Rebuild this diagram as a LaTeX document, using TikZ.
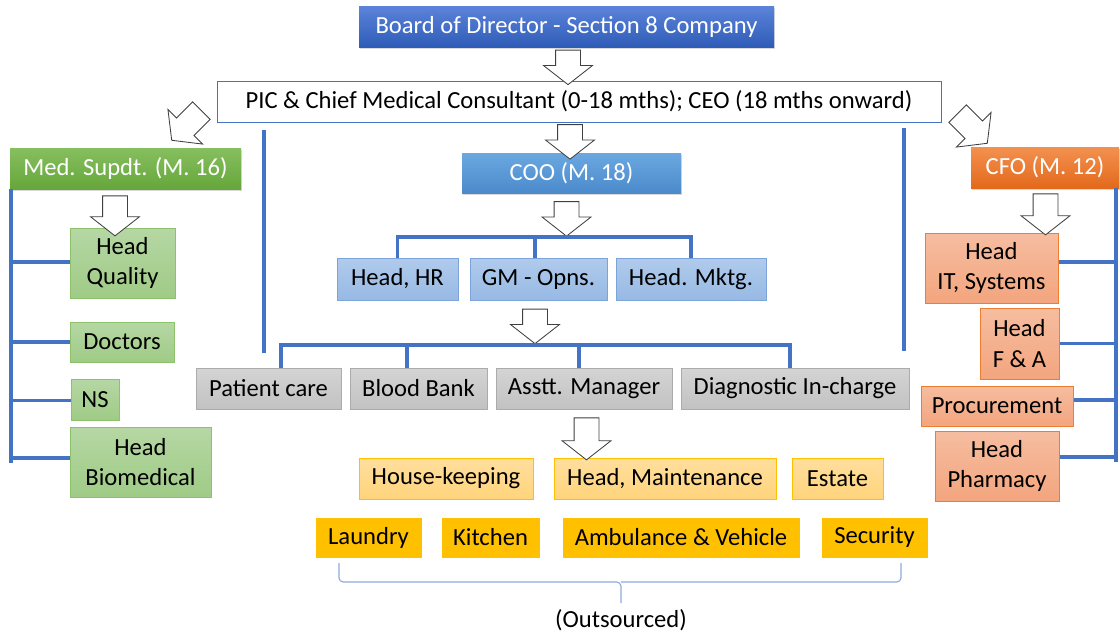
\documentclass[tikz,border=0pt]{standalone}
\usepackage{fontspec}
\setmainfont{Carlito}
\usepackage{tikz}
\usetikzlibrary{positioning,shapes.arrows,shadows,calc}

\definecolor{orgblue}{HTML}{4472C4}
\definecolor{bodtop}{HTML}{5B84D9}
\definecolor{bodbot}{HTML}{2F5CB8}
\definecolor{medtop}{HTML}{86BF5F}
\definecolor{medbot}{HTML}{66A63B}
\definecolor{cootop}{HTML}{6BA8E1}
\definecolor{coobot}{HTML}{4B8ACB}
\definecolor{cfotop}{HTML}{F3914F}
\definecolor{cfobot}{HTML}{E3691C}
\definecolor{lbtop}{HTML}{B0CBEC}
\definecolor{lbbot}{HTML}{98B9E4}
\definecolor{lbdraw}{HTML}{7DA3DB}
\definecolor{lgtop}{HTML}{B6D7A4}
\definecolor{lgbot}{HTML}{9FCB86}
\definecolor{lgdraw}{HTML}{8DC26C}
\definecolor{grtop}{HTML}{D4D4D4}
\definecolor{grbot}{HTML}{C2C2C2}
\definecolor{grdraw}{HTML}{ABABAB}
\definecolor{lotop}{HTML}{FFDE9E}
\definecolor{lobot}{HTML}{FFD47C}
\definecolor{gold}{HTML}{FFC000}
\definecolor{satop}{HTML}{F6BDA0}
\definecolor{sabot}{HTML}{F3A57E}
\definecolor{sadraw}{HTML}{ED7D31}
\definecolor{bracecol}{HTML}{8EAADB}

\begin{document}
\begin{tikzpicture}[
        font=\fontsize{17.5}{21.5}\selectfont,
        box/.style={rectangle, inner sep=2pt, align=center, line width=0.7pt, minimum height=1.025cm},
        topnode/.style={box, text=white, drop shadow={shadow xshift=0.6pt, shadow yshift=-1.4pt, opacity=0.3}},
        boardnode/.style={topnode, top color=bodtop, bottom color=bodbot},
        mednode/.style={topnode, top color=medtop, bottom color=medbot},
        coonode/.style={topnode, top color=cootop, bottom color=coobot},
        cfonode/.style={topnode, top color=cfotop, bottom color=cfobot},
        picnode/.style={box, draw=orgblue, fill=white},
        lbluenode/.style={box, draw=lbdraw, top color=lbtop, bottom color=lbbot},
        lgreennode/.style={box, draw=lgdraw, top color=lgtop, bottom color=lgbot},
        greynode/.style={box, draw=grdraw, top color=grtop, bottom color=grbot},
        lorangenode/.style={box, draw=gold, top color=lotop, bottom color=lobot},
        goldnode/.style={box, draw=gold, fill=gold, minimum height=0.975cm},
        salmonnode/.style={box, draw=sadraw, top color=satop, bottom color=sabot},
        blockarrow/.style={single arrow, draw=black!75, fill=white, line width=0.6pt, inner sep=0.3cm,
            single arrow head extend=0.3cm, single arrow tip angle=104,
            shape border rotate=270},
        orgline/.style={draw=orgblue, line width=2.5pt},
        bracket/.style={draw=bracecol, line width=0.8pt, rounded corners=3pt}
    ]
    \useasboundingbox (0,0) rectangle (28,-15.925);

    % Nodes
    \node[boardnode, minimum width=10.375cm] (bod) at (14.1625,-0.6625) {Board of Director - Section 8 Company};
    \node[picnode, minimum width=18.1cm] (pic) at (14.475,-2.5375) {PIC \& Chief Medical Consultant (0-18 mths); CEO (18 mths onward)};
    \node[mednode, minimum width=5.775cm] (med) at (3.1375,-4.2125) {Med. Supdt. (M. 16)};
    \node[coonode, minimum width=5.475cm, minimum height=1cm] (coo) at (14.2875,-4.325) {COO (M. 18)};
    \node[cfonode, minimum width=3.7cm] (cfo) at (26.125,-4.1875) {CFO (M. 12)};

    \node[lgreennode, minimum width=2.625cm, minimum height=1.75cm] (hq) at (3.0625,-6.575) {Head\\Quality};
    \node[lgreennode, minimum width=2.6cm, minimum height=1cm] (doc) at (3.05,-8.55) {Doctors};
    \node[lgreennode, minimum width=1.2cm] (ns) at (2.375,-9.9875) {NS};
    \node[lgreennode, minimum width=3.525cm, minimum height=1.75cm] (hbm) at (3.5125,-11.55) {Head\\Biomedical};

    \node[lbluenode, minimum width=3.025cm, minimum height=1.05cm] (hr) at (9.9375,-6.975) {Head, HR};
    \node[lbluenode, minimum width=3.425cm, minimum height=1.05cm] (gm) at (13.4625,-6.975) {GM - Opns.};
    \node[lbluenode, minimum width=3.75cm, minimum height=1.05cm] (mktg) at (17.275,-6.975) {Head. Mktg.};

    \node[greynode, minimum width=3.625cm] (pc) at (6.7125,-9.7125) {Patient care};
    \node[greynode, minimum width=3.425cm] (bb) at (10.4625,-9.7125) {Blood Bank};
    \node[greynode, minimum width=4.4cm] (am) at (14.6,-9.7125) {Asstt. Manager};
    \node[greynode, minimum width=5.7cm] (dx) at (19.875,-9.7125) {Diagnostic In-charge};

    \node[lorangenode, minimum width=4.35cm] (hk) at (11.15,-11.9625) {House-keeping};
    \node[lorangenode, minimum width=5.55cm] (hm) at (16.625,-11.9625) {Head, Maintenance};
    \node[lorangenode, minimum width=2.275cm] (est) at (20.9375,-11.9625) {Estate};

    \node[goldnode, minimum width=2.625cm] (lau) at (9.2125,-13.4375) {Laundry};
    \node[goldnode, minimum width=2.425cm] (kit) at (12.2625,-13.4375) {Kitchen};
    \node[goldnode, minimum width=5.9cm] (amb) at (17.025,-13.4375) {Ambulance \& Vehicle};
    \node[goldnode, minimum width=2.625cm] (sec) at (21.8625,-13.4375) {Security};

    \node[salmonnode, minimum width=3.325cm, minimum height=1.75cm] (hit) at (24.7875,-6.7) {Head\\IT, Systems};
    \node[salmonnode, minimum width=1.975cm, minimum height=1.775cm] (hfa) at (25.4875,-8.5875) {Head\\F \& A};
    \node[salmonnode, minimum width=3.8cm, minimum height=1cm] (proc) at (24.925,-10.15) {Procurement};
    \node[salmonnode, minimum width=3.1cm, minimum height=1.75cm] (hph) at (24.925,-11.65) {Head\\Pharmacy};

    \node (out) at (15.525,-15.5) {(Outsourced)};

    % Block arrows
    \node[blockarrow, minimum height=0.775cm] (a1) at (14.2,-1.5625) {};
    \node[blockarrow, minimum height=0.75cm] (a2) at (14.25,-3.425) {};
    \node[blockarrow, minimum height=1cm] (a3) at (2.875,-5.275) {};
    \node[blockarrow, minimum height=0.775cm] (a4) at (14.1625,-5.35) {};
    \node[blockarrow, minimum height=1.025cm] (a5) at (26.1375,-5.2375) {};
    \node[blockarrow, minimum height=0.825cm] (a6) at (13.375,-8.0375) {};
    \node[blockarrow, minimum height=1.05cm] (a7) at (14.6625,-10.85) {};
    \node[blockarrow, minimum height=1.05cm, rotate=-45] (a8) at (4.75,-3.05) {};
    \node[blockarrow, minimum height=1.05cm, rotate=45] (a9) at (24.225,-3.125) {};

    % Edges
    \coordinate (lend) at (0.275,-11.575);
    \coordinate (rend) at (27.9,-11.55);
    \draw[orgline] (med.south west -| lend) -- (lend);
    \draw[orgline] (cfo.south -| rend) -- (rend);
    \foreach \n/\s in {hq/0.02,doc/0,ns/-0.03,hbm/0.1}
        \draw[orgline] ([yshift=\s cm]\n.west) -- ([yshift=\s cm]\n.west -| lend);
    \foreach \n/\s in {hit/0.15,hfa/0,proc/0.15,hph/0.225}
        \draw[orgline] ([yshift=\s cm]\n.east) -- ([yshift=\s cm]\n.east -| rend);

    \coordinate (lvt) at (6.6,-3.25);
    \coordinate (lvb) at (6.6,-8.825);
    \coordinate (rvt) at (22.6,-3.2);
    \coordinate (rvb) at (22.6,-8.775);
    \draw[orgline] (lvt) -- (lvb);
    \draw[orgline] (rvt) -- (rvb);

    \coordinate (cbar) at (0,-5.925);
    \draw[orgline] (hr.north) |- (mktg.north |- cbar) -- (mktg.north);
    \draw[orgline] ([xshift=-0.09cm]gm.north) -- ([xshift=-0.09cm]gm.north |- cbar);

    \coordinate (gbar) at (0,-8.625);
    \coordinate (pcup) at ([xshift=0.3125cm]pc.north);
    \coordinate (bbup) at ([xshift=-0.2875cm]bb.north);
    \coordinate (amup) at ([xshift=-0.125cm]am.north);
    \coordinate (dxup) at ([xshift=-0.125cm]dx.north);
    \draw[orgline] (pcup) |- (dxup |- gbar) -- (dxup);
    \draw[orgline] (bbup) -- (bbup |- gbar);
    \draw[orgline] (amup) -- (amup |- gbar);

    % Bracket
    \coordinate (bl) at (8.475,-14.075);
    \coordinate (br) at (22.525,-14.075);
    \coordinate (bmid) at (15.525,-14.55);
    \coordinate (btip) at (15.525,-15.075);
    \draw[bracket] (bl) |- (bmid) -- (btip);
    \draw[bracket] (br) |- (bmid);
\end{tikzpicture}
\end{document}
